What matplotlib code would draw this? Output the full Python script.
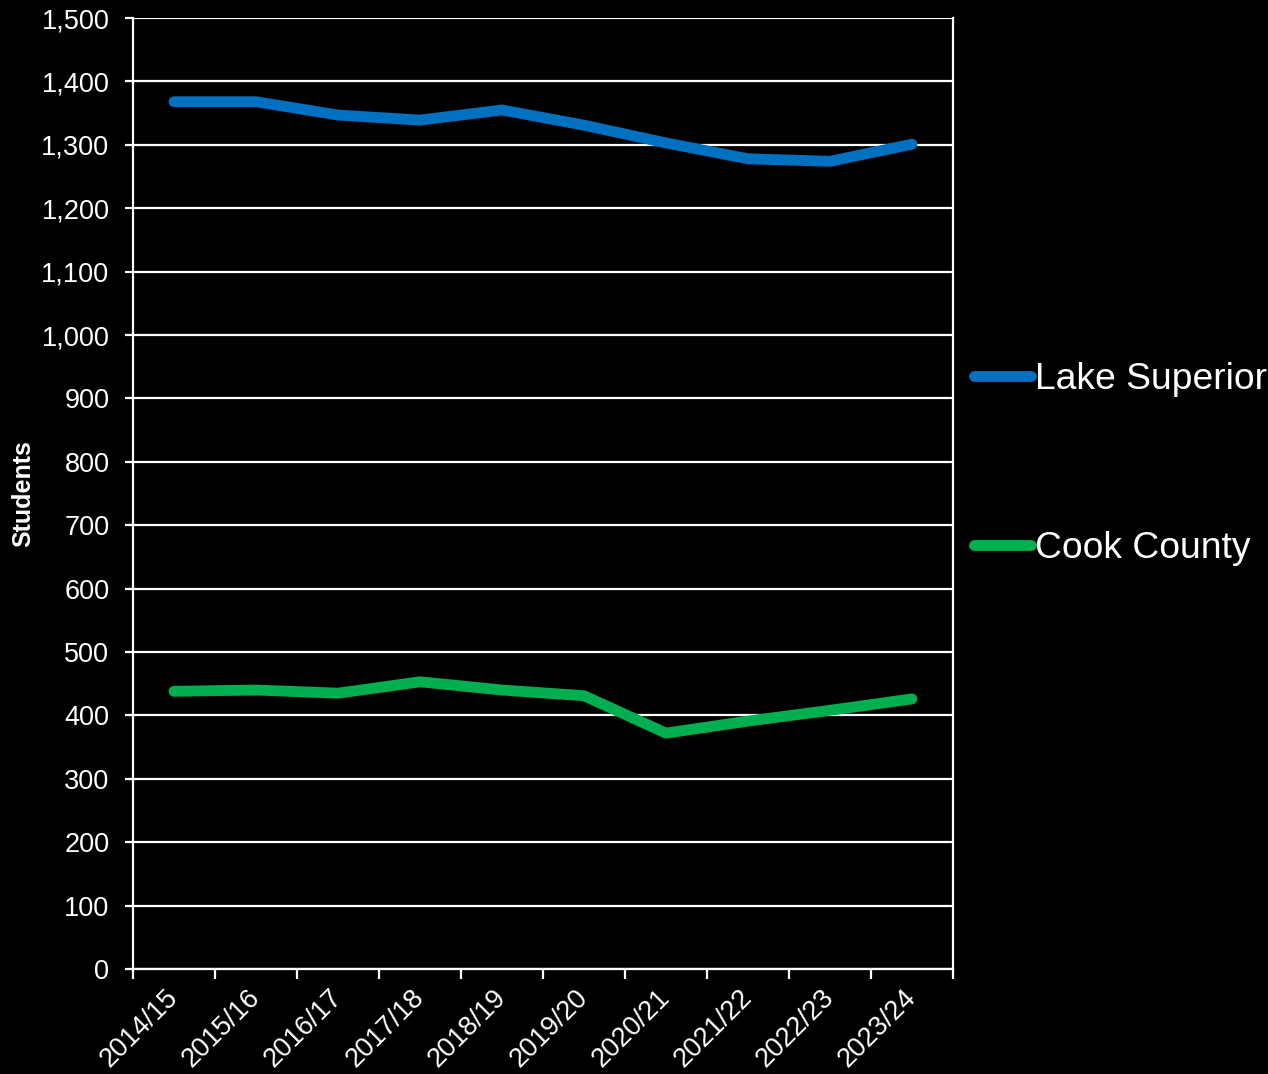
import matplotlib
matplotlib.use("Agg")
import matplotlib.pyplot as plt
from matplotlib.ticker import FuncFormatter, FixedLocator

years = ["2014/15", "2015/16", "2016/17", "2017/18", "2018/19",
         "2019/20", "2020/21", "2021/22", "2022/23", "2023/24"]
lake_superior = [1368, 1368, 1347, 1339, 1355, 1331, 1303, 1278, 1274, 1301]
cook_county = [438, 440, 435, 453, 440, 431, 372, 391, 408, 426]

plt.rcParams['font.family'] = ['Liberation Sans', 'DejaVu Sans']

fig = plt.figure(figsize=(12.68, 10.74), dpi=100, facecolor='black')
ax = fig.add_axes([0.1049, 0.0978, 0.6467, 0.8854])
ax.set_facecolor('black')

x = list(range(len(years)))
ax.plot(x, lake_superior, color='#0070C0', lw=7.8, solid_capstyle='round',
        solid_joinstyle='round', label='Lake Superior', zorder=3)
ax.plot(x, cook_county, color='#00B050', lw=7.8, solid_capstyle='round',
        solid_joinstyle='round', label='Cook County', zorder=3)

ax.set_xlim(-0.5, len(years) - 0.5)
ax.set_ylim(0, 1500)
ax.set_yticks(range(0, 1501, 100))
ax.yaxis.set_major_formatter(FuncFormatter(lambda v, p: f"{int(v):,}"))
ax.grid(axis='y', color='white', lw=1.6, zorder=1)
ax.set_axisbelow(True)

ax.set_xticks(x)
ax.set_xticklabels(years, rotation=45, ha='right', va='center', rotation_mode='anchor')
ax.xaxis.set_minor_locator(FixedLocator([i - 0.5 for i in range(len(years) + 1)]))
ax.tick_params(axis='x', which='major', length=0, pad=18, labelsize=19.5, colors='white')
ax.tick_params(axis='x', which='minor', length=7, width=1.6, color='white', direction='out')
ax.tick_params(axis='y', length=6, width=1.6, color='white', labelcolor='white',
               labelsize=19.5, pad=11, direction='out')

for s in ['left', 'bottom', 'right']:
    ax.spines[s].set_color('white')
    ax.spines[s].set_linewidth(1.6)
ax.spines['top'].set_visible(False)

ax.set_ylabel('Students', color='white', fontsize=18, fontweight='bold', labelpad=4)

leg = ax.legend(loc='center left', bbox_to_anchor=(1.0, 0.531), frameon=False,
                fontsize=26.8, labelspacing=3.6, handlelength=1.55, handletextpad=0.1,
                borderpad=0, borderaxespad=0.55)
for t in leg.get_texts():
    t.set_color('white')

fig.savefig('out.png', dpi=100, facecolor='black')
